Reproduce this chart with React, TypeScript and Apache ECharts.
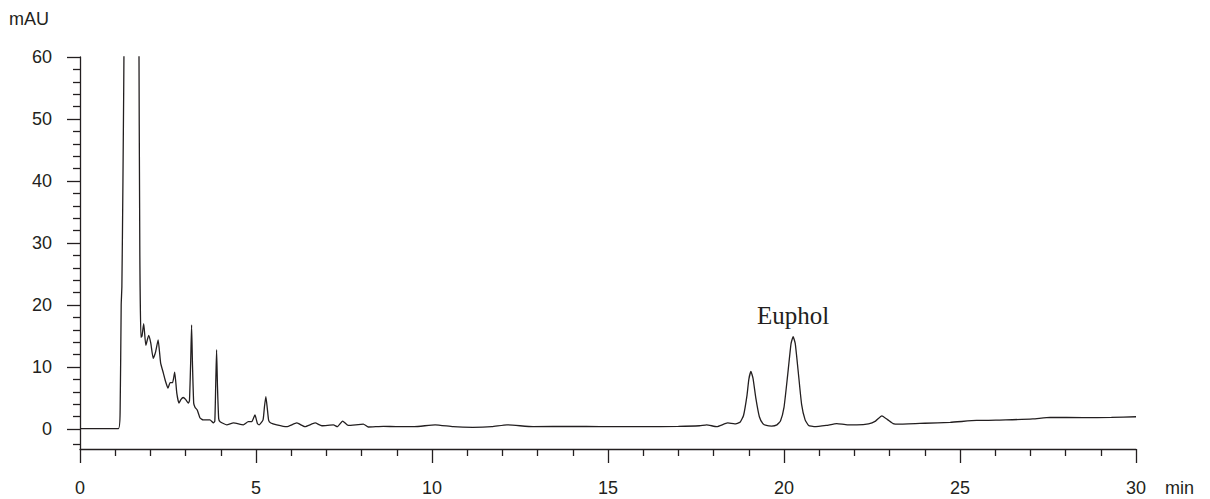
import React, { useEffect, useRef } from "react";
import * as echarts from "echarts";

// Retention time (min) and absorbance (mAU)
const TIMES: number[] = [
  0, 1.09, 1.14, 1.17, 1.19, 1.22, 1.26, 1.3, 1.48, 1.63, 1.67, 1.7, 1.73, 1.76,
  1.81, 1.87, 1.95, 2.01, 2.08, 2.15, 2.22, 2.29, 2.37, 2.43, 2.5, 2.56, 2.63,
  2.69, 2.75, 2.81, 2.87, 2.93, 3.0, 3.08, 3.11, 3.145, 3.17, 3.195, 3.23, 3.27,
  3.33, 3.41, 3.5, 3.69, 3.79, 3.83, 3.855, 3.88, 3.905, 3.94, 3.98, 4.17, 4.36,
  4.64, 4.78, 4.88, 4.97, 5.04, 5.09, 5.2, 5.24, 5.28, 5.32, 5.36, 5.42, 5.59,
  5.87, 6.16, 6.39, 6.68, 6.87, 7.2, 7.31, 7.46, 7.62, 8.05, 8.19, 8.62, 9.0,
  9.5, 10.09, 10.6, 11.16, 11.7, 12.13, 12.87, 14.0, 14.77, 16.0, 17.0, 17.6,
  17.8, 18.09, 18.4, 18.6, 18.75, 18.85, 18.95, 19.0, 19.06, 19.12, 19.2, 19.3,
  19.4, 19.5, 19.65, 19.8, 19.9, 20.0, 20.1, 20.2, 20.26, 20.32, 20.4, 20.5,
  20.6, 20.7, 20.85, 21.2, 21.5, 21.8, 22.07, 22.4, 22.6, 22.78, 22.95, 23.1,
  23.25, 24.0, 24.72, 25.47, 26.3, 27.07, 27.56, 28.5, 29.3, 30,
];
const MAU: number[] = [
  0.1, 0.1, 3, 20, 23, 40, 70, 300, 900, 300, 70, 28, 14.8, 15.0,
  17.0, 13.5, 15.1, 13.9, 11.4, 12.5, 14.4, 10.7, 9.0, 7.7, 6.6, 7.5, 7.5,
  9.2, 5.8, 4.2, 4.8, 5.1, 4.8, 4.2, 4.6, 11.0, 16.8, 10.5, 4.2, 3.5,
  3.1, 1.8, 1.5, 1.5, 1.0, 1.3, 7.0, 12.8, 7.0, 1.7, 1.2, 0.7, 1.0,
  0.7, 1.2, 1.2, 2.3, 0.9, 0.7, 1.5, 3.6, 5.25, 3.4, 1.4, 1.0, 0.7,
  0.4, 1.0, 0.4, 1.0, 0.55, 0.7, 0.4, 1.3, 0.6, 0.8, 0.35, 0.45, 0.4,
  0.4, 0.7, 0.4, 0.3, 0.4, 0.7, 0.4, 0.45, 0.4, 0.4, 0.45, 0.55,
  0.7, 0.4, 1.0, 0.85, 1.1, 2.2, 5.5, 8.0, 9.3, 8.2, 5.0, 2.0,
  0.9, 0.6, 0.5, 0.7, 1.3, 3.5, 8.5, 13.8, 14.9, 13.8, 9.5, 4.0,
  1.5, 0.6, 0.4, 0.6, 0.9, 0.7, 0.7, 0.85, 1.3, 2.15, 1.5, 0.9,
  0.8, 0.95, 1.1, 1.4, 1.5, 1.65, 1.9, 1.85, 1.9, 2.0,
];

const Y_MAJOR: number[] = [0, 10, 20, 30, 40, 50, 60];
const Y_MINOR: number[] = [
  -2.5, 2, 4, 6, 8, 12, 14, 16, 18, 22, 24, 26, 28, 32, 34, 36, 38, 42, 44, 46,
  48, 52, 54, 56, 58,
];
const ANNOTATION = { name: "Euphol", time: 20.26, value: 14.9 };

const INK = "#231f20";
const SANS = "'Liberation Sans', Arial, Helvetica, sans-serif";

export default function App() {
  const ref = useRef<HTMLDivElement>(null);

  useEffect(() => {
    if (!ref.current) return;
    const chart = echarts.init(ref.current, null, { renderer: "svg" });
    const data = TIMES.map((t, i) => [t, MAU[i]]);
    chart.setOption({
      animation: false,
      backgroundColor: "#ffffff",
      grid: { left: 80, right: 74, top: 57, bottom: 50, containLabel: false },
      xAxis: {
        type: "value",
        min: 0,
        max: 30,
        interval: 5,
        axisLine: { onZero: false, lineStyle: { color: INK, width: 1.3 } },
        axisTick: { length: 14, lineStyle: { color: INK, width: 1.3 } },
        minorTick: { show: true, splitNumber: 5, length: 7, lineStyle: { color: INK, width: 1.3 } },
        splitLine: { show: false },
        minorSplitLine: { show: false },
        axisLabel: { fontSize: 18, color: INK, fontFamily: SANS, margin: 30 },
      },
      yAxis: [
        {
          type: "value",
          min: -3.2,
          max: 60,
          axisLine: { show: true, lineStyle: { color: INK, width: 1.3 } },
          axisTick: { show: true, length: 13, customValues: Y_MAJOR, lineStyle: { color: INK, width: 1.3 } },
          axisLabel: { customValues: Y_MAJOR, fontSize: 18, color: INK, fontFamily: SANS, margin: 28 },
          splitLine: { show: false },
        },
        {
          type: "value",
          min: -3.2,
          max: 60,
          position: "left",
          axisLine: { show: false },
          axisTick: { show: true, length: 7, customValues: Y_MINOR, lineStyle: { color: INK, width: 1.3 } },
          axisLabel: { show: false },
          splitLine: { show: false },
        },
      ],
      graphic: [
        {
          type: "text",
          left: 9,
          top: 10,
          style: { text: "mAU", fontSize: 18, fill: INK, fontFamily: SANS },
        },
        {
          type: "text",
          left: 1165,
          top: 479,
          style: { text: "min", fontSize: 18, fill: INK, fontFamily: SANS },
        },
      ],
      series: [
        {
          type: "line",
          data,
          yAxisIndex: 0,
          showSymbol: false,
          symbol: "none",
          clip: true,
          smooth: 0.15,
          lineStyle: { color: INK, width: 1.3 },
          markPoint: {
            symbol: "circle",
            symbolSize: 0,
            data: [{ coord: [ANNOTATION.time, ANNOTATION.value], name: ANNOTATION.name }],
            label: {
              show: true,
              position: "top",
              distance: 9,
              formatter: ANNOTATION.name,
              fontSize: 25,
              color: INK,
              fontFamily: "'Liberation Serif', 'Times New Roman', serif",
            },
          },
        },
      ],
    });
    return () => chart.dispose();
  }, []);

  return (
    <div
      ref={ref}
      style={{ position: "fixed", left: 0, top: 0, width: 1210, height: 499 }}
    />
  );
}
